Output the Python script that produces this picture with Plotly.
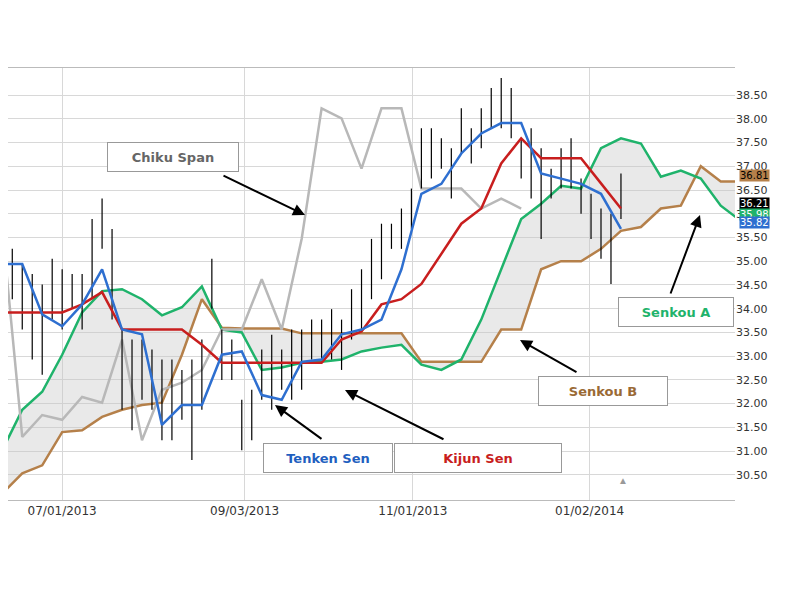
import plotly.graph_objects as go
import pandas as pd

# price bars every 3.5 days starting 2013-06-10
bar_hi = [35.47, 35.26, 34.94, 34.73, 34.51, 35.05, 34.83, 34.73, 34.73, 35.89,
          36.32, 35.68, 33.56, 33.35, 33.35, 33.14, 32.93, 32.93, 32.71, 32.93,
          33.35, 35.05, 33.56, 33.35, 32.08, 32.29, 33.14, 33.45, 33.14, 33.56,
          33.56, 33.77, 33.77, 33.99, 33.77, 34.41, 34.83, 35.47, 35.79, 35.79,
          36.11, 36.53, 37.80, 37.80, 37.59, 37.38, 38.22, 37.80, 38.22, 38.65,
          38.86, 38.65, 37.59, 37.80, 37.38, 36.95, 37.38, 37.59, 36.74, 36.42,
          36.11, 36.00, 36.85]
bar_lo = [34.62, 34.20, 33.56, 32.93, 32.61, 33.77, 33.56, 34.00, 33.56, 34.20,
          35.26, 33.77, 31.87, 31.44, 32.08, 31.87, 31.23, 31.23, 31.66, 30.81,
          31.87, 34.00, 32.50, 32.50, 31.02, 31.23, 32.08, 31.87, 32.29, 32.08,
          32.29, 32.93, 32.93, 32.93, 32.71, 33.35, 33.56, 34.20, 34.62, 35.26,
          35.26, 35.68, 36.53, 36.74, 36.95, 36.32, 37.27, 37.06, 37.38, 37.80,
          37.80, 37.59, 36.74, 36.32, 35.47, 36.32, 36.53, 36.53, 36.00, 35.47,
          35.05, 34.52, 35.89]

# weekly lines starting 2013-06-10
senkou_a = [31.02, 31.87, 32.25, 33.03, 33.92, 34.37, 34.41, 34.20, 33.86, 34.03,
            34.47, 33.56, 33.50, 32.71, 32.76, 32.86, 32.88, 32.93, 33.10, 33.18,
            33.24, 32.82, 32.71, 32.93, 33.77, 34.83, 35.89, 36.21, 36.59, 36.53,
            37.38, 37.59, 37.48, 36.78, 36.91, 36.74, 36.17, 35.85]
senkou_b = [30.11, 30.53, 30.70, 31.40, 31.44, 31.72, 31.87, 31.97, 32.02, 33.03,
            34.20, 33.60, 33.58, 33.58, 33.58, 33.48, 33.48, 33.48, 33.48, 33.48,
            33.48, 32.88, 32.88, 32.88, 32.88, 33.56, 33.56, 34.83, 35.00, 35.00,
            35.26, 35.64, 35.72, 36.11, 36.17, 37.00, 36.68, 36.68]
tenkan = [34.94, 34.94, 33.88, 33.63, 34.09, 34.83, 33.56, 33.46, 31.55, 31.97,
          31.97, 33.03, 33.10, 32.18, 32.08, 32.88, 32.93, 33.46, 33.56, 33.77,
          34.83, 36.42, 36.63, 37.27, 37.69, 37.91, 37.91, 36.85, 36.74, 36.63,
          36.42, 35.68]
kijun = [33.92, 33.92, 33.92, 33.92, 34.09, 34.35, 33.56, 33.56, 33.56, 33.56,
         33.24, 32.86, 32.86, 32.86, 32.86, 32.86, 32.86, 33.35, 33.52, 34.09,
         34.20, 34.52, 35.15, 35.79, 36.11, 37.06, 37.59, 37.17, 37.17, 37.17,
         36.64, 36.11]
chikou = [35.68, 31.30, 31.76, 31.66, 32.14, 32.02, 33.35, 31.23, 32.29, 32.44,
          32.71, 33.56, 33.56, 34.62, 33.56, 35.47, 38.22, 38.01, 36.95, 38.22,
          38.22, 36.53, 36.53, 36.53, 36.11, 36.32, 36.11]

tick_dates = ["2013-07-01", "2013-09-03", "2013-11-01", "2014-01-02"]
tick_text = ["07/01/2013", "09/03/2013", "11/01/2013", "01/02/2014"]
price_ticks = [30.5, 31.0, 31.5, 32.0, 32.5, 33.0, 33.5, 34.0, 34.5, 35.0,
               35.5, 36.0, 36.5, 37.0, 37.5, 38.0, 38.5]
last_vals = [("36.81", 36.81, "#b5804a", "black"), ("36.21", 36.21, "black", "white"),
             ("35.98", 35.98, "#1fb36b", "white"), ("35.82", 35.82, "#2e6fd0", "white")]

start = "2013-06-10"
bar_dates = pd.date_range(start, periods=len(bar_hi), freq="84h")
wk = pd.date_range(start, periods=len(senkou_a), freq="7D")

bx, by = [], []
for d, h, l in zip(bar_dates, bar_hi, bar_lo):
    bx += [d, d, None]
    by += [l, h, None]

fig = go.Figure()
fig.add_trace(go.Scatter(x=wk, y=senkou_b, mode="lines", line=dict(color="#b5804a", width=2.5)))
fig.add_trace(go.Scatter(x=wk, y=senkou_a, mode="lines", line=dict(color="#1fb36b", width=2.5),
                         fill="tonexty", fillcolor="rgba(200,200,200,0.4)"))
fig.add_trace(go.Scatter(x=wk[:len(chikou)], y=chikou, mode="lines", line=dict(color="#b8b8b8", width=2.5)))
fig.add_trace(go.Scatter(x=bx, y=by, mode="lines", line=dict(color="black", width=1.2)))
fig.add_trace(go.Scatter(x=wk[:len(kijun)], y=kijun, mode="lines", line=dict(color="#c81e1e", width=2.5)))
fig.add_trace(go.Scatter(x=wk[:len(tenkan)], y=tenkan, mode="lines", line=dict(color="#2e6fd0", width=2.5)))

# screen position -> paper coords (plot spans x 8..735, y 68..500 on screen)
def px(x, y):
    return (x - 8) / 727.0, (500 - y) / 432.0

boxes = [("Chiku Span", 173, 157, 128, "#666666"), ("Tenken Sen", 328, 458, 126, "#1f5fc0"),
         ("Kijun Sen", 478, 458, 164, "#c81e1e"), ("Senkou B", 603, 391, 126, "#9a6a35"),
         ("Senkou A", 676, 312, 112, "#1fb36b")]
for t, x, y, w, c in boxes:
    ax_, ay_ = px(x, y)
    fig.add_annotation(xref="paper", yref="paper", x=ax_, y=ay_, text="<b>%s</b>" % t,
                       xanchor="center", yanchor="middle",
                       showarrow=False, font=dict(family="DejaVu Sans", size=13, color=c),
                       bgcolor="white", bordercolor="#999999", borderwidth=1, width=w, height=26)

arrows = [(305, 215, -83, -40), (275, 405, 48, 35), (345, 390, 100, 50),
          (520, 340, 58, 33), (700, 215, -30, 80)]
for x, y, dx, dy in arrows:
    ax_, ay_ = px(x, y)
    fig.add_annotation(xref="paper", yref="paper", x=ax_, y=ay_, ax=dx, ay=dy, text="",
                       showarrow=True, arrowhead=2, arrowsize=1.2, arrowwidth=2, arrowcolor="black")

for t, v, bg, fc in last_vals:
    fig.add_annotation(xref="paper", yref="y", x=1.005, y=v, xanchor="left", yanchor="middle",
                       text=t, showarrow=False, bgcolor=bg,
                       font=dict(family="DejaVu Sans", size=10, color=fc), borderpad=0)
fig.add_annotation(xref="paper", yref="paper", x=px(630, 0)[0], y=0.025, text="▲", showarrow=False,
                   font=dict(size=10, color="#999999"))

fig.update_layout(
    width=800, height=600, showlegend=False, plot_bgcolor="white", paper_bgcolor="white",
    margin=dict(l=0, r=73, t=60, b=108, autoexpand=False),
    xaxis=dict(range=["2013-06-12", "2014-02-22"], tickvals=tick_dates, ticktext=tick_text,
               showgrid=True, gridcolor="#d8d8d8", ticks="", zeroline=False,
               tickfont=dict(family="DejaVu Sans", size=12, color="#333333"),
               showline=True, linecolor="#bbbbbb", mirror=True),
    yaxis=dict(side="right", range=[29.97, 39.07], tickvals=price_ticks, tickformat=".2f",
               showgrid=True, gridcolor="#d8d8d8", zeroline=False,
               tickfont=dict(family="DejaVu Sans", size=11, color="#333333")),
)
fig.write_html("out.html")
